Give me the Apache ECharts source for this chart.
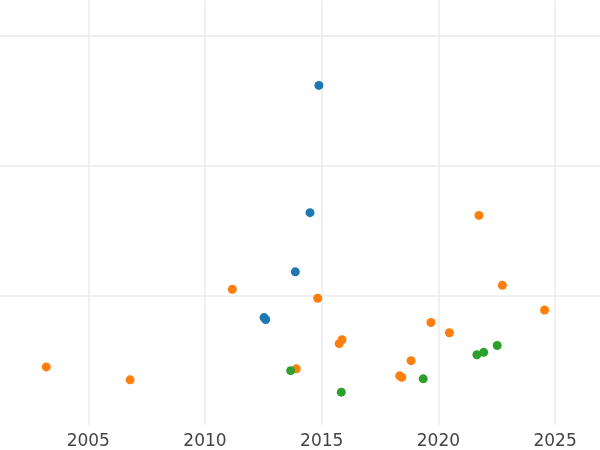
<!DOCTYPE html>
<html>
<head>
<meta charset="utf-8">
<script src="https://cdn.jsdelivr.net/npm/echarts@6/dist/echarts.min.js"></script>
<style>html,body{margin:0;padding:0;background:#fff}#c{width:600px;height:450px}</style>
</head>
<body>
<div id="c"></div>
<script>
// Values (x = year, y = arbitrary units where gridlines sit at 1, 2, 3)
const blueYears = [2014.88, 2014.50, 2013.87, 2012.53, 2012.60];
const blueValues = [2.618, 1.637, 1.181, 0.828, 0.813];

const orangeYears = [2003.20, 2006.79, 2011.17, 2013.91, 2014.83, 2015.75, 2015.87, 2018.34, 2018.43, 2018.83, 2019.68, 2020.47, 2021.74, 2022.74, 2024.55];
const orangeValues = [0.448, 0.348, 1.046, 0.433, 0.977, 0.627, 0.657, 0.379, 0.368, 0.496, 0.790, 0.711, 1.616, 1.077, 0.887];

const greenYears = [2013.67, 2015.84, 2019.35, 2021.65, 2021.94, 2022.52];
const greenValues = [0.419, 0.253, 0.356, 0.542, 0.560, 0.613];

const xTickLabels = ['2005', '2010', '2015', '2020', '2025'];

function pairs(xs, ys) { return xs.map((x, i) => [x, ys[i]]); }

const chart = echarts.init(document.getElementById('c'), null, {renderer: 'canvas'});
const gridColor = '#ebebeb';
chart.setOption({
  animation: false,
  backgroundColor: '#ffffff',
  grid: {left: 0, right: 0, top: 0.6, bottom: 22.8, containLabel: false},
  xAxis: {
    type: 'value',
    min: 2001.217,
    max: 2026.924,
    minInterval: 5,
    maxInterval: 5,
    axisLine: {show: false},
    axisTick: {show: false},
    axisLabel: {
      show: true, color: '#444', fontSize: 17, fontFamily: 'DejaVu Sans', margin: 8,
      showMinLabel: false, showMaxLabel: false,
      formatter: v => (xTickLabels.indexOf(String(Math.round(v))) >= 0 && Math.abs(v - Math.round(v)) < 1e-6) ? String(Math.round(v)) : ''
    },
    splitLine: {show: true, showMinLine: false, showMaxLine: false, lineStyle: {color: gridColor, width: 1.5}}
  },
  yAxis: {
    type: 'value',
    min: 0,
    max: 3.272,
    interval: 1,
    axisLine: {show: false},
    axisTick: {show: false},
    axisLabel: {show: false},
    splitLine: {show: true, showMinLine: false, showMaxLine: false, lineStyle: {color: gridColor, width: 1.5}}
  },
  series: [
    {name: 'blue', type: 'scatter', symbolSize: 9, itemStyle: {color: '#1f77b4', opacity: 1}, data: pairs(blueYears, blueValues)},
    {name: 'orange', type: 'scatter', symbolSize: 9, itemStyle: {color: '#ff7f0e', opacity: 1}, data: pairs(orangeYears, orangeValues)},
    {name: 'green', type: 'scatter', symbolSize: 9, itemStyle: {color: '#2ca02c', opacity: 1}, data: pairs(greenYears, greenValues)}
  ]
});
</script>
</body>
</html>
